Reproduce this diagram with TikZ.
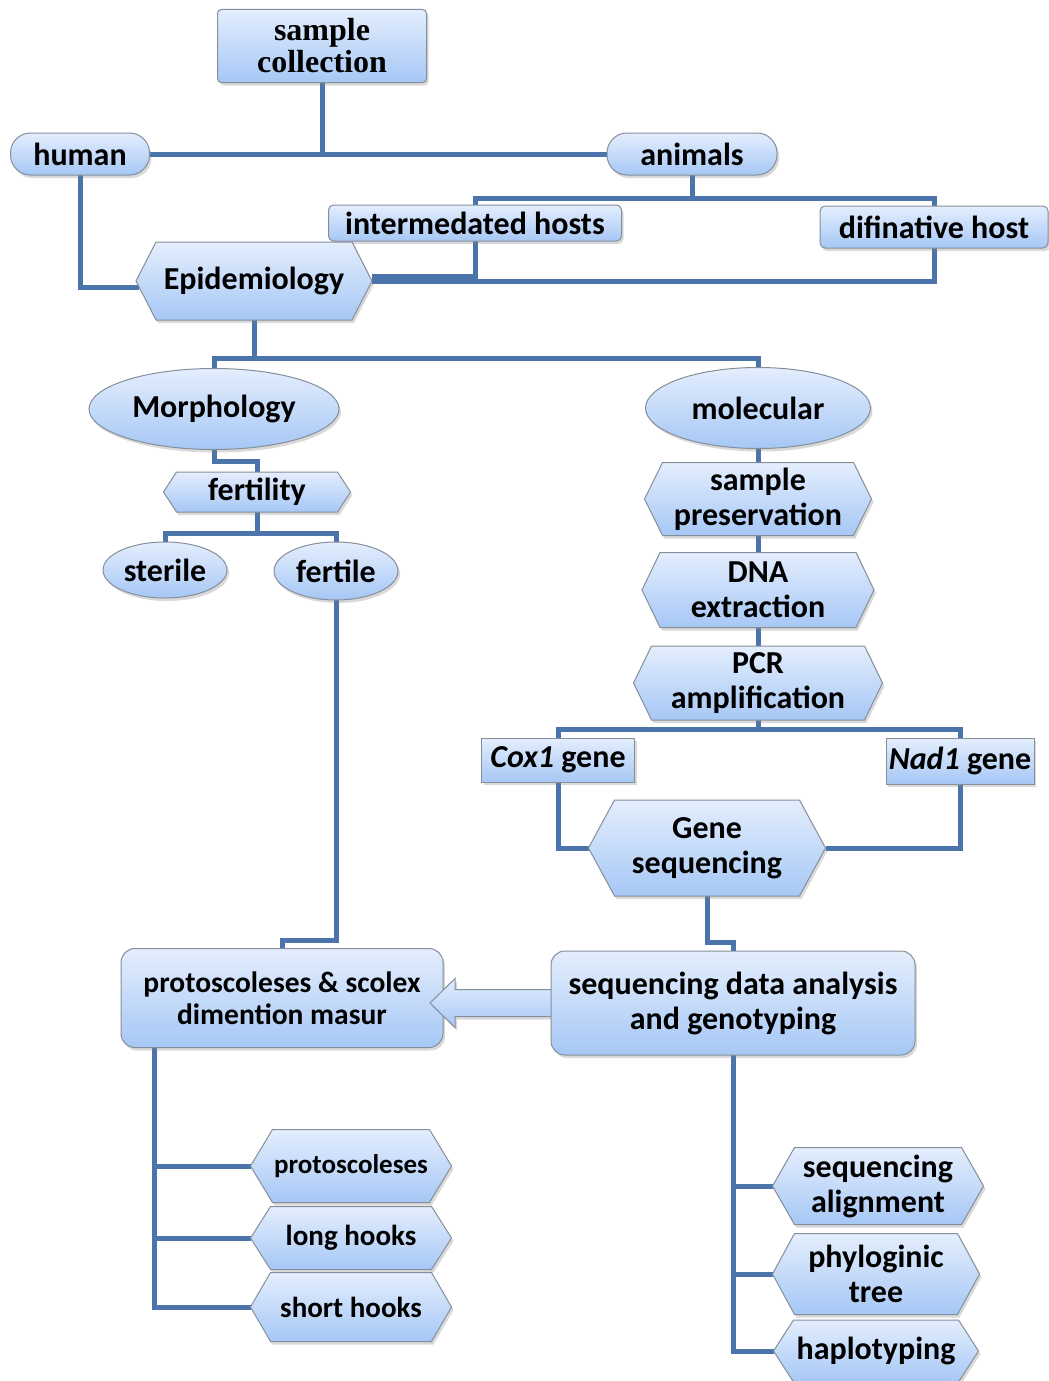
\documentclass[tikz,border=0pt]{standalone}
\usepackage{fontspec}
\setmainfont{Carlito}
\newfontfamily\timesfont{Liberation Serif}
\usetikzlibrary{shapes.geometric,shadows,calc}
\definecolor{linkblue}{HTML}{4A74AA}
\definecolor{boxtop}{HTML}{E4EEFD}
\definecolor{boxbot}{HTML}{A6C7F5}
\definecolor{boxedge}{HTML}{858F9B}
\pgfdeclarelayer{bg}
\pgfsetlayers{bg,main}
% flat-topped box with pointed ends
\makeatletter
\pgfkeys{/pgf/hexind/.initial=20pt}
\pgfdeclareshape{hexagonbox}{
  \inheritsavedanchors[from=rectangle]
  \inheritanchorborder[from=rectangle]
  \inheritanchor[from=rectangle]{center}
  \inheritanchor[from=rectangle]{north}
  \inheritanchor[from=rectangle]{south}
  \inheritanchor[from=rectangle]{east}
  \inheritanchor[from=rectangle]{west}
  \inheritanchor[from=rectangle]{north east}
  \inheritanchor[from=rectangle]{north west}
  \inheritanchor[from=rectangle]{south east}
  \inheritanchor[from=rectangle]{south west}
  \inheritanchor[from=rectangle]{mid}
  \inheritanchor[from=rectangle]{base}
  \backgroundpath{
    \southwest \edef\hexL{\the\pgf@x}\edef\hexB{\the\pgf@y}
    \northeast \edef\hexR{\the\pgf@x}\edef\hexT{\the\pgf@y}
    \pgfmathsetlength\pgf@xa{\pgfkeysvalueof{/pgf/hexind}}
    \pgf@xb=\hexL\advance\pgf@xb by\pgf@xa \edef\hexLi{\the\pgf@xb}
    \pgf@xb=\hexR\advance\pgf@xb by-\pgf@xa \edef\hexRi{\the\pgf@xb}
    \pgf@yb=\hexB\advance\pgf@yb by\hexT \pgf@yb=.5\pgf@yb \edef\hexM{\the\pgf@yb}
    \pgfpathmoveto{\pgfqpoint{\hexL}{\hexM}}
    \pgfpathlineto{\pgfqpoint{\hexLi}{\hexT}}
    \pgfpathlineto{\pgfqpoint{\hexRi}{\hexT}}
    \pgfpathlineto{\pgfqpoint{\hexR}{\hexM}}
    \pgfpathlineto{\pgfqpoint{\hexRi}{\hexB}}
    \pgfpathlineto{\pgfqpoint{\hexLi}{\hexB}}
    \pgfpathclose
  }
}
\makeatother
\tikzstyle{box}=[draw=boxedge, line width=1pt, top color=boxtop, bottom color=boxbot, drop shadow={opacity=.3, shadow xshift=2pt, shadow yshift=-3pt}, inner sep=0pt, outer sep=0pt, align=center, font=\fontsize{32}{35}\selectfont\bfseries]
\tikzstyle{hexnode}=[box, shape=hexagonbox]
\tikzstyle{pill}=[box, rounded corners=20pt]
\tikzstyle{roundbox}=[box, rounded corners=5pt]
\tikzstyle{bigbox}=[box, rounded corners=14pt]
\tikzstyle{oval}=[box, ellipse]
\tikzstyle{link}=[draw=linkblue, line width=5pt]

\begin{document}
\begin{tikzpicture}[x=1pt, y=-1pt]
  \useasboundingbox (0,0) rectangle (1049,1381);
  % top: collection and hosts
  \node[roundbox, rounded corners=4pt, minimum width=209, minimum height=73, font=\fontsize{32}{32}\selectfont\timesfont\bfseries] (sc) at (322,46) {sample\\collection};
  \node[pill, minimum width=139, minimum height=42] (hum) at (80,154) {human};
  \node[pill, minimum width=170, minimum height=42] (ani) at (692,154) {animals};
  \node[roundbox, minimum width=293, minimum height=36] (inter) at (475,223) {intermedated hosts};
  \node[roundbox, minimum width=228, minimum height=42] (dfh) at (934,227) {difinative host};
  \node[hexnode, hexind=20, minimum width=236, minimum height=78] (epi) at (254,281) {Epidemiology};
  % morphology branch
  \node[oval, minimum width=250, minimum height=81] (mor) at (214,409) {Morphology};
  \node[hexnode, hexind=13, minimum width=187, minimum height=40] (fty) at (257,492) {fertility};
  \node[oval, minimum width=124, minimum height=56] (ste) at (165,570) {sterile};
  \node[oval, minimum width=124, minimum height=58] (fer) at (336,571) {fertile};
  % molecular branch
  \node[oval, minimum width=225, minimum height=81] (mol) at (758,408) {molecular};
  \node[hexnode, hexind=18, minimum width=227, minimum height=73] (spr) at (758,499) {sample\\preservation};
  \node[hexnode, hexind=18, minimum width=232, minimum height=75] (dna) at (758,590) {DNA\\extraction};
  \node[hexnode, hexind=18, minimum width=249, minimum height=74] (pcr) at (758,683) {PCR\\amplification};
  \node[box, minimum width=153, minimum height=44] (cox) at (558,760) {\textit{Cox1} gene};
  \node[box, minimum width=148, minimum height=46] (nad) at (960,761) {\textit{Nad1} gene};
  \node[hexnode, hexind=26, minimum width=237, minimum height=96] (gsq) at (707,848) {Gene\\sequencing};
  % measurement and analysis
  \node[bigbox, minimum width=322, minimum height=99, font=\fontsize{29.5}{32}\selectfont\bfseries] (pro) at (282,998) {protoscoleses \& scolex\\dimention masur};
  \path[box] ($(pro.east)+(-13,5)$) -- ++(25,-24.5) -- ++(0,11) -- ++(110,0) -- ++(0,27) -- ++(-110,0) -- ++(0,11) -- cycle;
  \node[bigbox, minimum width=364, minimum height=104] (dat) at (733,1003) {sequencing data analysis\\and genotyping};
  \node[hexnode, hexind=22, minimum width=201, minimum height=73, font=\fontsize{27}{30}\selectfont\bfseries] (psc) at (351,1166) {protoscoleses};
  \node[hexnode, hexind=20, minimum width=201, minimum height=63, font=\fontsize{29}{32}\selectfont\bfseries] (lho) at (351,1238) {long hooks};
  \node[hexnode, hexind=20, minimum width=201, minimum height=69, font=\fontsize{29}{32}\selectfont\bfseries] (sho) at (351,1307) {short hooks};
  \node[hexnode, hexind=22, minimum width=211, minimum height=77] (sal) at (878,1186) {sequencing\\alignment};
  \node[hexnode, hexind=22, minimum width=207, minimum height=81] (phy) at (876,1274) {phyloginic\\tree};
  \node[hexnode, hexind=20, minimum width=205, minimum height=62] (hap) at (876,1351) {haplotyping};

  \begin{pgfonlayer}{bg}
    \draw[link] (sc.south) -- (sc.south |- hum.east);
    \draw[link] (hum.east) -- (ani.west);
    \draw[link] (hum.south) |- ($(epi.west)+(3,6)$);
    \coordinate (anij) at ($(ani.south)+(0,23)$);
    \draw[link] (ani.south) -- (anij);
    \draw[link] (inter.north) |- (anij) -| (dfh.north);
    \draw[link] (inter.south) |- ($(epi.east)+(0,-5)$);
    \draw[link] (dfh.south) |- (epi.east);
    \coordinate (epij) at ($(epi.south)+(0,38)$);
    \draw[link] (epi.south) -- (epij);
    \draw[link] (mor.north) |- (epij) -| (mol.north);
    \draw[link] (mor.south) -- ++(0,12) -| (fty.north);
    \coordinate (ftyj) at ($(fty.south)+(0,21)$);
    \draw[link] (fty.south) -- (ftyj);
    \draw[link] (ste.north) |- (ftyj) -| (fer.north);
    \draw[link] (fer.south) |- ($(pro.north)+(0,-8)$) -- (pro.north);
    \draw[link] (mol.south) -- (spr.north);
    \draw[link] (spr.south) -- (dna.north);
    \draw[link] (dna.south) -- (pcr.north);
    \coordinate (pcrj) at ($(pcr.south)+(0,9)$);
    \draw[link] (pcr.south) -- (pcrj);
    \draw[link] (cox.north) |- (pcrj) -| (nad.north);
    \draw[link] (cox.south) |- (gsq.west);
    \draw[link] (nad.south) |- (gsq.east);
    \draw[link] (gsq.south) |- ($(dat.north)+(0,-9)$) -- (dat.north);
    \coordinate (proj) at ($(pro.south west)+(33,0)$);
    \draw[link] (proj) |- (psc.west);
    \draw[link] (proj) |- (lho.west);
    \draw[link] (proj) |- (sho.west);
    \draw[link] (dat.south) |- (sal.west);
    \draw[link] (dat.south) |- (phy.west);
    \draw[link] (dat.south) |- (hap.west);
  \end{pgfonlayer}
\end{tikzpicture}
\end{document}
